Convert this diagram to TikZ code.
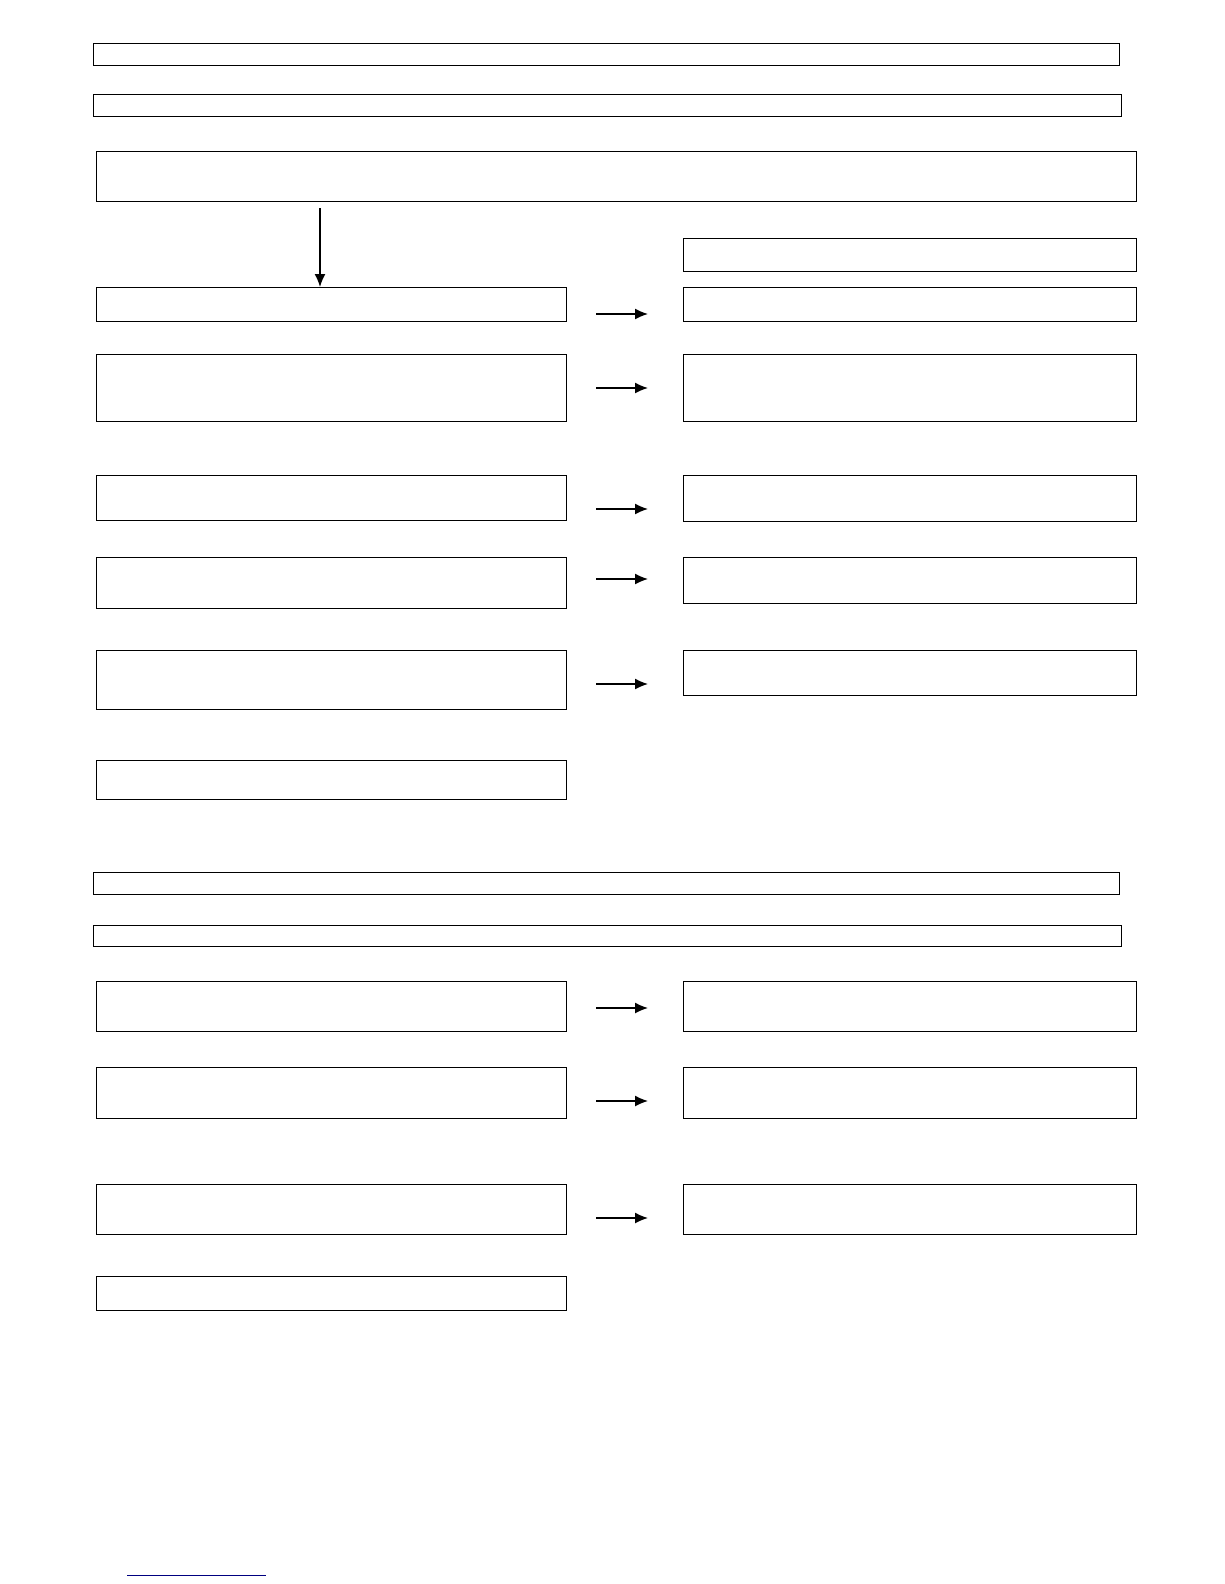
\documentclass[tikz,border=0pt]{standalone}
\usepackage{tikz}
\usetikzlibrary{arrows.meta}
\usetikzlibrary{positioning}

\tikzset{
  blank/.style={draw, line width=1.2pt, rectangle, inner sep=0pt, anchor=north west},
  flow/.style={line width=1.4pt, -{Latex[length=13pt, width=11pt]}}
}
% box from its top left corner, width and height in px
\newcommand{\blankbox}[5]{\node[blank, minimum width=#4pt, minimum height=#5pt] (#1) at (#2,#3) {};}

\begin{document}
\begin{tikzpicture}[x=1pt, y=-1pt]
    \useasboundingbox (0,0) rectangle (1224,1584);

    \blankbox{headA}{93}{43}{1026}{22}
    \blankbox{headB}{93}{94}{1028}{22}
    \blankbox{intro}{96}{151}{1040}{50}
    \blankbox{note}{683}{238}{453}{33}

    % first block
    \blankbox{left1}{96}{287}{470}{34}
    \blankbox{right1}{683}{287}{453}{34}
    \blankbox{left2}{96}{354}{470}{67}
    \blankbox{right2}{683}{354}{453}{67}
    \blankbox{left3}{96}{475}{470}{45}
    \blankbox{right3}{683}{475}{453}{46}
    \blankbox{left4}{96}{557}{470}{51}
    \blankbox{right4}{683}{557}{453}{46}
    \blankbox{left5}{96}{650}{470}{59}
    \blankbox{right5}{683}{650}{453}{45}
    \blankbox{left6}{96}{760}{470}{39}

    % second block
    \blankbox{headC}{93}{872}{1026}{22}
    \blankbox{headD}{93}{925}{1028}{21}
    \blankbox{left7}{96}{981}{470}{50}
    \blankbox{right7}{683}{981}{453}{50}
    \blankbox{left8}{96}{1067}{470}{51}
    \blankbox{right8}{683}{1067}{453}{51}
    \blankbox{left9}{96}{1184}{470}{50}
    \blankbox{right9}{683}{1184}{453}{50}
    \blankbox{left10}{96}{1276}{470}{34}

    \coordinate (down) at (320,208);
    \draw[flow] (down) -- (down |- left1.north);

    \foreach \y [count=\i] in {314, 388, 509, 579, 684, 1008, 1101, 1218} {
      \coordinate (from\i) at (596,\y);
      \coordinate (to\i) at (648,\y);
      \draw[flow] (from\i) -- (to\i);
    }

    \coordinate (ruleL) at (127,1575);
    \coordinate (ruleR) at (266,1575);
    \draw[line width=1pt, blue!50!black] (ruleL) -- (ruleR);
\end{tikzpicture}
\end{document}
